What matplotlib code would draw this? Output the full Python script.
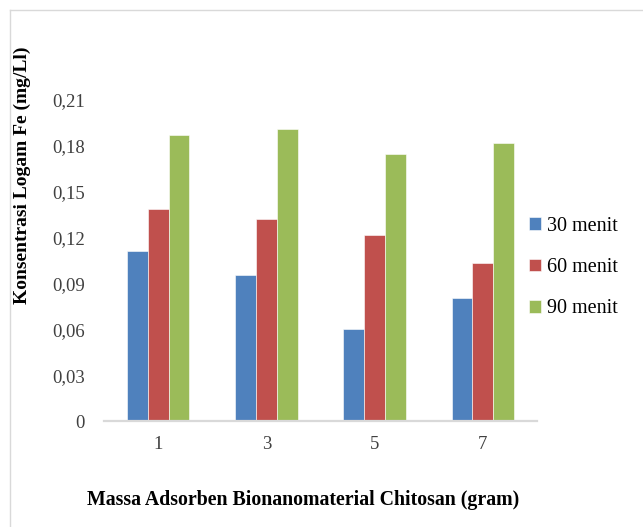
import numpy as np
import matplotlib.pyplot as plt
from matplotlib.lines import Line2D

# --- Data ---
massa = ["1", "3", "5", "7"]
series_names = ["30 menit", "60 menit", "90 menit"]
menit_30 = [0.111, 0.0955, 0.060, 0.0805]
menit_60 = [0.139, 0.132, 0.1215, 0.1035]
menit_90 = [0.187, 0.191, 0.175, 0.182]
y_ticks = [0, 0.03, 0.06, 0.09, 0.12, 0.15, 0.18, 0.21]
y_tick_labels = ["0", "0,03", "0,06", "0,09", "0,12", "0,15", "0,18", "0,21"]

colors = ["#4F81BD", "#C0504D", "#9BBB59"]
plt.rcParams["font.family"] = ["Liberation Serif"]

# --- Plotting ---
fig = plt.figure(figsize=(6.43, 5.27), dpi=100)
ax = fig.add_axes([0.1617, 0.2011, 0.6734, 0.6091])

x = np.arange(len(massa))
width = 0.193
for i, (vals, name) in enumerate(zip([menit_30, menit_60, menit_90], series_names)):
    ax.bar(x + (i - 1) * width, vals, width, color=colors[i], label=name,
           edgecolor="white", linewidth=0.4)

ax.set_xlim(-0.5, len(massa) - 0.5)
ax.set_ylim(0, 0.21)
ax.set_xticks(x)
ax.set_xticklabels(massa, fontsize=13.5, color="#404040")
ax.set_yticks(y_ticks)
ax.set_yticklabels(y_tick_labels, fontsize=13.5, color="#404040")
ax.tick_params(axis="both", length=0)
ax.tick_params(axis="x", pad=11)
ax.tick_params(axis="y", pad=14)

for side in ["top", "right", "left"]:
    ax.spines[side].set_visible(False)
ax.spines["bottom"].set_color("#D9D9D9")
ax.spines["bottom"].set_linewidth(1.6)

ax.set_ylabel("Konsentrasi Logam Fe (mg/Ll)", fontsize=14, fontweight="bold")
ax.yaxis.set_label_coords(-0.168, 0.766)
ax.set_xlabel("Massa Adsorben Bionanomaterial Chitosan (gram)", fontsize=14.3,
              fontweight="bold")
ax.xaxis.set_label_coords(0.46, -0.215)

leg = ax.legend(loc="center left", bbox_to_anchor=(0.94, 0.478), frameon=False,
                fontsize=14.5, handlelength=0.6, handleheight=0.6,
                handletextpad=0.3, labelspacing=1.1)

# thin gray frame around the chart
fig.add_artist(Line2D([10 / 643, 10 / 643], [0, 1 - 10 / 527],
                      transform=fig.transFigure, color="#D9D9D9", lw=1))
fig.add_artist(Line2D([10 / 643, 1], [1 - 10 / 527, 1 - 10 / 527],
                      transform=fig.transFigure, color="#D9D9D9", lw=1))

fig.savefig("out.png", dpi=100)
